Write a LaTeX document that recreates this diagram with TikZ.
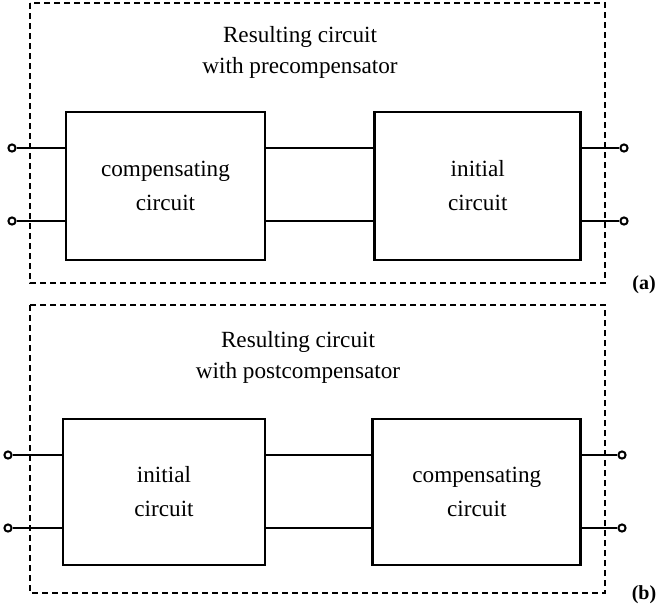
\documentclass[tikz,border=0pt]{standalone}
\usepackage{fontspec}
\setmainfont{Liberation Serif}
\usepackage{tikz}
\usetikzlibrary{positioning}

\begin{document}
\begin{tikzpicture}[
  x=0.5pt, y=-0.5pt,
  block/.style={draw, line width=1.4pt, minimum height=74pt, align=center,
                font=\fontsize{11.6}{17}\selectfont},
  frame/.style={draw, line width=0.9pt, dash pattern=on 3pt off 2pt},
  title/.style={align=center, font=\fontsize{11.6}{15.5}\selectfont},
  term/.style={draw, circle, line width=1pt, inner sep=0pt, minimum size=3.6pt, fill=white},
  wire/.style={line width=1.4pt},
  tag/.style={font=\fontsize{10}{12}\selectfont\bfseries},
]
\useasboundingbox (0,0) rectangle (657,606);

% (a) precompensator
\draw[frame] (30,3) rectangle (605,283);
\node[title] (titleA) at (300,52) {Resulting circuit\\with precompensator};
\node[block, minimum width=99.5pt] (compA) at (165.5,186) {compensating\\circuit};
\node[block, minimum width=103pt, right=53.5pt of compA] (initA) {initial\\circuit};
\node[term] (inA1) at (12,148) {};
\node[term] (inA2) at (12,221) {};
\node[term] (outA1) at (624,148) {};
\node[term] (outA2) at (624,221) {};
\draw[wire] (inA1) -- (compA.west|-inA1);
\draw[wire] (inA2) -- (compA.west|-inA2);
\draw[wire] (compA.east|-inA1) -- (initA.west|-inA1);
\draw[wire] (compA.east|-inA2) -- (initA.west|-inA2);
\draw[wire] (initA.east|-outA1) -- (outA1);
\draw[wire] (initA.east|-outA2) -- (outA2);
\node[tag] (labA) at (644,285) {(a)};

% (b) postcompensator
\draw[frame] (30,305) rectangle (605,593);
\node[title] (titleB) at (298,357) {Resulting circuit\\with postcompensator};
\node[block, minimum width=101pt, minimum height=73pt] (initB) at (164,492) {initial\\circuit};
\node[block, minimum width=104pt, minimum height=73pt, right=52.5pt of initB] (compB) {compensating\\circuit};
\node[term] (inB1) at (8,455) {};
\node[term] (inB2) at (8,528) {};
\node[term] (outB1) at (622,455) {};
\node[term] (outB2) at (622,528) {};
\draw[wire] (inB1) -- (initB.west|-inB1);
\draw[wire] (inB2) -- (initB.west|-inB2);
\draw[wire] (initB.east|-inB1) -- (compB.west|-inB1);
\draw[wire] (initB.east|-inB2) -- (compB.west|-inB2);
\draw[wire] (compB.east|-outB1) -- (outB1);
\draw[wire] (compB.east|-outB2) -- (outB2);
\node[tag] (labB) at (644,595) {(b)};
\end{tikzpicture}
\end{document}
